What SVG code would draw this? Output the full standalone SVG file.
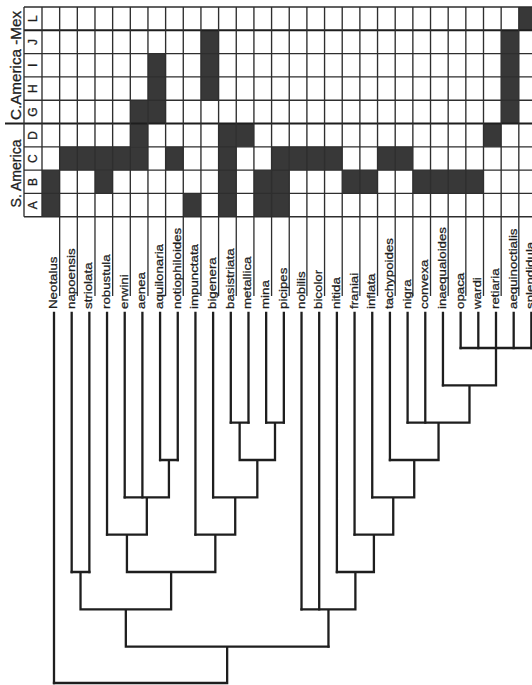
<svg xmlns="http://www.w3.org/2000/svg" width="532" height="685" viewBox="0 0 532 685">
<style>
.cell{fill:#383838}
.gl{stroke:#2e2e2e;stroke-width:1.35;fill:none}
.gt{stroke:#1e1e1e;stroke-width:2.1;fill:none}
.ext{stroke:#2e2e2e;stroke-width:1.3;fill:none}
.tx{font-family:"Liberation Sans",Arial,sans-serif;font-size:13.3px;fill:#1e1e1e;stroke:#1e1e1e;stroke-width:0.3}
.lt{font-family:"Liberation Sans",Arial,sans-serif;font-size:12px;fill:#1e1e1e;stroke:#1e1e1e;stroke-width:0.3;text-anchor:middle}
.ar{font-family:"Liberation Sans",Arial,sans-serif;font-size:14px;fill:#1e1e1e;stroke:#1e1e1e;stroke-width:0.3}
.tree{stroke:#1e1e1e;stroke-width:2.3;fill:none;stroke-linecap:square;stroke-linejoin:miter}
</style>
<rect width="532" height="685" fill="#fff"/>
<g id="grid">
<g id="cells">
<rect class="cell" x="42" y="170.1" width="17.66" height="46.6"/>
<rect class="cell" x="59.66" y="146.8" width="88.3" height="23.3"/>
<rect class="cell" x="94.98" y="170.1" width="17.66" height="23.3"/>
<rect class="cell" x="130.3" y="100.2" width="17.66" height="46.6"/>
<rect class="cell" x="147.96" y="53.6" width="17.66" height="69.9"/>
<rect class="cell" x="165.62" y="146.8" width="17.66" height="23.3"/>
<rect class="cell" x="183.28" y="193.4" width="17.66" height="23.3"/>
<rect class="cell" x="200.94" y="30.3" width="17.66" height="69.9"/>
<rect class="cell" x="218.6" y="123.5" width="17.66" height="93.2"/>
<rect class="cell" x="236.26" y="123.5" width="17.66" height="23.3"/>
<rect class="cell" x="253.92" y="170.1" width="17.66" height="46.6"/>
<rect class="cell" x="271.58" y="146.8" width="17.66" height="69.9"/>
<rect class="cell" x="289.24" y="146.8" width="52.98" height="23.3"/>
<rect class="cell" x="342.22" y="170.1" width="35.32" height="23.3"/>
<rect class="cell" x="377.54" y="146.8" width="35.32" height="23.3"/>
<rect class="cell" x="412.86" y="170.1" width="70.64" height="23.3"/>
<rect class="cell" x="483.5" y="123.5" width="17.66" height="23.3"/>
<rect class="cell" x="501.16" y="30.3" width="17.66" height="93.2"/>
<rect class="cell" x="518.82" y="7" width="17.66" height="23.3"/>
</g>
<g id="grid-lines">
<path class="gl" d="M24 7H532M24 53.6H532M24 76.9H532M24 100.2H532M24 146.8H532M24 170.1H532M24 193.4H532M24 216.7H532"/>
<path class="gt" d="M24 30.3H532M5 123.5H532"/>
<path class="gl" d="M24 7V216.7M42 7V216.7M59.66 7V216.7M77.32 7V216.7M94.98 7V216.7M112.64 7V216.7M130.3 7V216.7M147.96 7V216.7M165.62 7V216.7M183.28 7V216.7M200.94 7V216.7M218.6 7V216.7M236.26 7V216.7M253.92 7V216.7M271.58 7V216.7M289.24 7V216.7M306.9 7V216.7M324.56 7V216.7M342.22 7V216.7M359.88 7V216.7M377.54 7V216.7M395.2 7V216.7M412.86 7V216.7M430.52 7V216.7M448.18 7V216.7M465.84 7V216.7M483.5 7V216.7M501.16 7V216.7M518.82 7V216.7"/>
<path class="ext" d="M59.66 216.7V296M77.32 216.7V296M94.98 216.7V296M112.64 216.7V296M130.3 216.7V296M147.96 216.7V296M165.62 216.7V296M183.28 216.7V296M200.94 216.7V296M218.6 216.7V296M236.26 216.7V296M253.92 216.7V296M271.58 216.7V296M289.24 216.7V296M306.9 216.7V296M324.56 216.7V296M342.22 216.7V296M359.88 216.7V296M377.54 216.7V296M395.2 216.7V296M412.86 216.7V296M430.52 216.7V296M448.18 216.7V296M465.84 216.7V296M483.5 216.7V296M501.16 216.7V296M518.82 216.7V296"/>
</g>
<g id="area-letters">
<text class="lt" transform="translate(37,18.6) rotate(-90)">L</text>
<text class="lt" transform="translate(37,42) rotate(-90)">J</text>
<text class="lt" transform="translate(37,65.3) rotate(-90)">I</text>
<text class="lt" transform="translate(37,88.6) rotate(-90)">H</text>
<text class="lt" transform="translate(37,112) rotate(-90)">G</text>
<text class="lt" transform="translate(37,135.3) rotate(-90)">D</text>
<text class="lt" transform="translate(37,158.6) rotate(-90)">C</text>
<text class="lt" transform="translate(37,182) rotate(-90)">B</text>
<text class="lt" transform="translate(37,205.3) rotate(-90)">A</text>
</g>
<g id="regions">
<text class="ar" transform="translate(20.5,207.5) rotate(-90)" textLength="68" lengthAdjust="spacingAndGlyphs">S. America</text>
<text class="ar" transform="translate(20.5,120) rotate(-90)" textLength="109" lengthAdjust="spacingAndGlyphs">C.America -Mex</text>
</g>
</g>
<g id="taxa">
<g id="t-Neotalus"><text class="tx" transform="translate(57,309) rotate(-90) scale(1,0.88)">Neotalus</text></g>
<g id="t-napoensis"><text class="tx" transform="translate(74.68,309) rotate(-90) scale(1,0.88)">napoensis</text></g>
<g id="t-striolata"><text class="tx" transform="translate(92.36,309) rotate(-90) scale(1,0.88)">striolata</text></g>
<g id="t-robustula"><text class="tx" transform="translate(110.04,309) rotate(-90) scale(1,0.88)">robustula</text></g>
<g id="t-erwini"><text class="tx" transform="translate(127.72,309) rotate(-90) scale(1,0.88)">erwini</text></g>
<g id="t-aenea"><text class="tx" transform="translate(145.4,309) rotate(-90) scale(1,0.88)">aenea</text></g>
<g id="t-aquilonaria"><text class="tx" transform="translate(163.08,309) rotate(-90) scale(1,0.88)">aquilonaria</text></g>
<g id="t-notiophiloides"><text class="tx" transform="translate(180.76,309) rotate(-90) scale(1,0.88)">notiophiloides</text></g>
<g id="t-impunctata"><text class="tx" transform="translate(198.44,309) rotate(-90) scale(1,0.88)">impunctata</text></g>
<g id="t-bigenera"><text class="tx" transform="translate(216.12,309) rotate(-90) scale(1,0.88)">bigenera</text></g>
<g id="t-basistriata"><text class="tx" transform="translate(233.8,309) rotate(-90) scale(1,0.88)">basistriata</text></g>
<g id="t-metallica"><text class="tx" transform="translate(251.48,309) rotate(-90) scale(1,0.88)">metallica</text></g>
<g id="t-mina"><text class="tx" transform="translate(269.16,309) rotate(-90) scale(1,0.88)">mina</text></g>
<g id="t-picipes"><text class="tx" transform="translate(286.84,309) rotate(-90) scale(1,0.88)">picipes</text></g>
<g id="t-nobilis"><text class="tx" transform="translate(304.52,309) rotate(-90) scale(1,0.88)">nobilis</text></g>
<g id="t-bicolor"><text class="tx" transform="translate(322.2,309) rotate(-90) scale(1,0.88)">bicolor</text></g>
<g id="t-nitida"><text class="tx" transform="translate(339.88,309) rotate(-90) scale(1,0.88)">nitida</text></g>
<g id="t-franiai"><text class="tx" transform="translate(357.56,309) rotate(-90) scale(1,0.88)">franiai</text></g>
<g id="t-inflata"><text class="tx" transform="translate(375.24,309) rotate(-90) scale(1,0.88)">inflata</text></g>
<g id="t-tachypoides"><text class="tx" transform="translate(392.92,309) rotate(-90) scale(1,0.88)">tachypoides</text></g>
<g id="t-nigra"><text class="tx" transform="translate(410.6,309) rotate(-90) scale(1,0.88)">nigra</text></g>
<g id="t-convexa"><text class="tx" transform="translate(428.28,309) rotate(-90) scale(1,0.88)">convexa</text></g>
<g id="t-inaequaloides"><text class="tx" transform="translate(445.96,309) rotate(-90) scale(1,0.88)">inaequaloides</text></g>
<g id="t-opaca"><text class="tx" transform="translate(463.64,309) rotate(-90) scale(1,0.88)">opaca</text></g>
<g id="t-wardi"><text class="tx" transform="translate(481.32,309) rotate(-90) scale(1,0.88)">wardi</text></g>
<g id="t-retiaria"><text class="tx" transform="translate(499,309) rotate(-90) scale(1,0.88)">retiaria</text></g>
<g id="t-aequinoctialis"><text class="tx" transform="translate(516.68,309) rotate(-90) scale(1,0.88)">aequinoctialis</text></g>
<g id="t-splendidula"><text class="tx" transform="translate(534.36,309) rotate(-90) scale(1,0.88)">splendidula</text></g>
</g>
<g id="connectors">
<path class="tree" d="M54 313V683M71.68 313V572M89.36 313V572M107.04 313V534.6M124.72 313V497.3M142.4 313V497.3M160.08 313V460M177.76 313V460M195.44 313V534.6M213.12 313V497.3M230.8 313V422.6M248.48 313V422.6M266.16 313V422.6M283.84 313V422.6M301.52 313V609.3M319.2 313V609.3M336.88 313V572M354.56 313V534.6M372.24 313V497.3M389.92 313V460M407.6 313V422.6M425.28 313V422.6M442.96 313V385.3M460.64 313V348M478.32 313V348M496 313V348M513.68 313V348M531.36 313V348"/>
<path class="tree" d="M460.64 348H534M496 348V385.3M442.96 385.3H496M469.48 385.3V422.6M407.6 422.6H469.48M438.54 422.6V460M389.92 460H438.54M414.23 460V497.3M372.24 497.3H414.23M393.24 497.3V534.6M354.56 534.6H393.24M373.9 534.6V572M336.88 572H373.9M355.39 572V609.3M301.52 609.3H355.39M328.46 609.3V646.6"/>
<path class="tree" d="M160.08 460H177.76M168.92 460V497.3M124.72 497.3H168.92M146.82 497.3V534.6M107.04 534.6H146.82M126.93 534.6V572M230.8 422.6H248.48M239.64 422.6V460M266.16 422.6H283.84M275 422.6V460M239.64 460H275M257.32 460V497.3M213.12 497.3H257.32M235.22 497.3V534.6M195.44 534.6H235.22M215.33 534.6V572M71.68 572H89.36M80.52 572V609.3M126.93 572H215.33M171.13 572V609.3M80.52 609.3H171.13M125.83 609.3V646.6M125.83 646.6H328.46M227.15 646.6V683M54 683H227.15"/>
</g>
</svg>
